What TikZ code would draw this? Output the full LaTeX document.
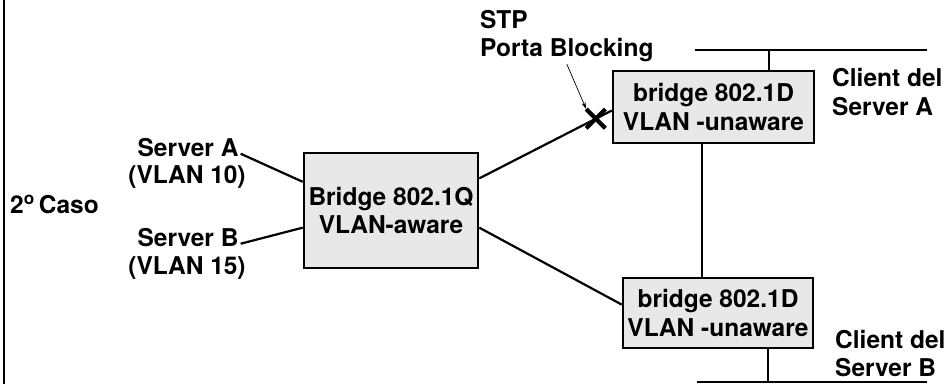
\documentclass[tikz,border=0pt]{standalone}
\usepackage{fontspec}
\setmainfont{TeX Gyre Heros}
\usetikzlibrary{positioning,calc,shapes.misc,arrows.meta}

\newcommand{\diagfont}{\fontsize{24.5}{28.5}\selectfont\bfseries}

\begin{document}
\begin{tikzpicture}[
    x=1pt, y=-1pt,
    bridge/.style={rectangle, draw, line width=2.6pt, fill=black!9, align=center, inner sep=0pt, font=\diagfont},
    link/.style={draw, line width=2.2pt},
    lbl/.style={inner sep=2pt, font=\diagfont},
    blocked/.style={inner sep=0pt, minimum size=17pt}
]
\useasboundingbox (0,0) rectangle (950,384);

% Frame edge on the left
\draw[line width=2.6pt] (4,0) -- (4,384);

% Bridges
\node[bridge, minimum width=174, minimum height=115] (Q) at (391,210.5) {Bridge 802.1Q\\VLAN-aware};
\node[bridge, minimum width=201, minimum height=72] (DA) at (713.5,107) {bridge 802.1D\\VLAN -unaware};
\node[bridge, minimum width=190, minimum height=70] (DB) at (718,313) {bridge 802.1D\\VLAN -unaware};

% Labels
\node[lbl, anchor=west] (caso) at (8,204) {2\textsuperscript{o}\,Caso};
\node[lbl] (srvA) at (188,148) {Server A};
\node[lbl] (vlanA) at (187,177) {(VLAN 10)};
\node[lbl] (srvB) at (188,238) {Server B};
\node[lbl] (vlanB) at (187,268) {(VLAN 15)};
\node[lbl, align=left, anchor=west] (stp) at (478,36) {STP\\Porta Blocking};
\node[lbl, align=left, anchor=west] (cliA) at (830,92) {Client del\\Server A};
\node[lbl, align=left, anchor=west] (cliB) at (833,353.5) {Client del\\Server B};

% Links
\draw[link] ($(srvA.east)!0.5!(srvA.south east)$) -- (Q.162);
\draw[link] ($(srvB.east)!0.5!(srvB.south east)$) -- (Q.191);
\draw[link] (Q.20) -- (DA.182) node[blocked, pos=0.88] (blk) {};
\draw[link] (Q.349) -- (DB.175);

% blocked port
\draw[line width=4.2pt] (blk.north west) -- (blk.south east);
\draw[line width=4.2pt] (blk.south west) -- (blk.north east);
\draw[-{Stealth[length=7pt,width=4pt]}, line width=0.7pt] (stp.south) -- (blk.north west);

\coordinate (vx) at (702,0);
\draw[link] (DA.south -| vx) -- (DB.north -| vx);

% LAN segments
\coordinate (busA1) at (695,50);
\coordinate (busA2) at (927,50);
\coordinate (tapA) at (769,50);
\draw[link] (busA1) -- (busA2);
\draw[link] (tapA) -- (tapA |- DA.north);

\coordinate (busB1) at (697,382);
\coordinate (busB2) at (927,382);
\coordinate (tapB) at (768,382);
\draw[link] (busB1) -- (busB2);
\draw[link] (tapB) -- (tapB |- DB.south);

\end{tikzpicture}
\end{document}
